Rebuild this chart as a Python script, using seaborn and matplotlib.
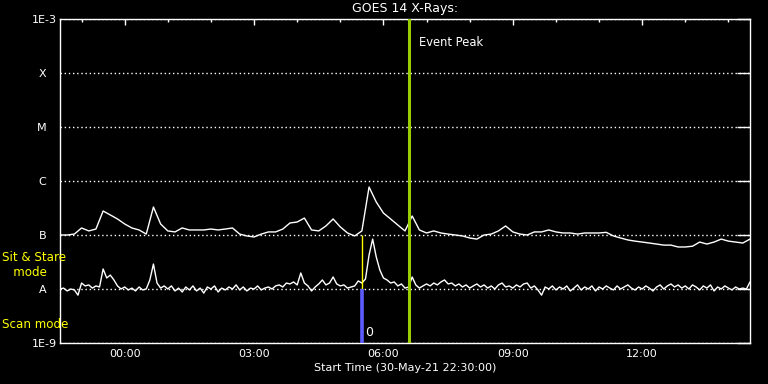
import numpy as np
import pandas as pd
import matplotlib
matplotlib.use("Agg")
import matplotlib.pyplot as plt
import matplotlib.dates as mdates
from matplotlib.ticker import NullLocator
import seaborn as sns

# GOES 14 X-ray flux
start_time = "2021-05-30 22:30"
end_time = "2021-05-31 14:30"
event_peak = "2021-05-31 06:36"
scan_time = "2021-05-31 05:30"

# long channel, one value per 10 min, in units of 1e-7 W/m^2
long_flux = [1.00, 1.00, 1.04, 1.35, 1.19, 1.29, 2.78, 2.35, 1.98, 1.60,
             1.35, 1.24, 1.04, 3.30, 1.60, 1.19, 1.14, 1.35, 1.24, 1.24,
             1.24, 1.29, 1.24, 1.29, 1.35, 1.04, 0.96, 0.92, 1.04, 1.14,
             1.14, 1.29, 1.67, 1.74, 2.06, 1.24, 1.19, 1.47, 1.98, 1.41,
             1.09, 0.96, 1.19, 7.74, 4.08, 2.55, 1.98, 1.53, 1.19, 2.25,
             1.24, 1.09, 1.19, 1.09, 1.04, 1.00, 0.96, 0.88, 0.84, 1.00,
             1.04, 1.19, 1.47, 1.14, 1.04, 1.00, 1.14, 1.14, 1.24, 1.14,
             1.09, 1.09, 1.04, 1.09, 1.09, 1.09, 1.12, 0.96, 0.88, 0.81,
             0.77, 0.74, 0.71, 0.68, 0.65, 0.65, 0.60, 0.60, 0.62, 0.74,
             0.68, 0.74, 0.84, 0.77, 0.74, 0.71, 0.84]

# short channel, one value per 5 min, in units of 1e-8 W/m^2
short_flux = [1.00, 1.04, 0.92, 1.00, 0.96, 0.77, 1.29, 1.14, 1.19, 1.04,
              1.14, 1.09, 2.35, 1.60, 1.81, 1.47, 1.14, 1.00, 1.09, 0.96,
              1.04, 0.92, 1.09, 0.96, 1.00, 1.47, 2.90, 1.29, 1.04, 1.14,
              1.00, 1.14, 0.92, 1.04, 0.88, 1.09, 0.96, 1.14, 0.92, 1.04,
              0.84, 1.09, 1.00, 1.14, 0.88, 1.04, 0.96, 1.09, 1.00, 1.19,
              0.96, 1.09, 0.92, 1.04, 1.00, 1.14, 0.96, 1.04, 1.09, 1.00,
              1.14, 1.19, 1.09, 1.29, 1.24, 1.35, 1.19, 1.98, 1.29, 1.14,
              0.92, 1.09, 1.24, 1.47, 1.19, 1.29, 1.67, 1.24, 1.14, 1.19,
              1.04, 1.09, 1.14, 1.41, 1.29, 1.53, 4.26, 8.40, 3.91, 2.25,
              1.60, 1.47, 1.29, 1.35, 1.14, 1.24, 1.04, 1.09, 1.67, 1.19,
              1.04, 1.14, 1.24, 1.14, 1.29, 1.19, 1.35, 1.47, 1.24, 1.29,
              1.14, 1.24, 1.09, 1.19, 1.04, 1.14, 1.24, 1.09, 1.19, 1.04,
              1.14, 1.00, 1.19, 1.29, 1.09, 1.14, 1.04, 1.19, 1.09, 1.24,
              1.29, 1.04, 1.14, 0.96, 0.77, 1.09, 1.00, 1.14, 0.96, 1.09,
              1.00, 1.14, 0.92, 1.04, 1.19, 0.96, 1.09, 1.00, 1.14, 0.92,
              1.09, 1.00, 1.14, 1.04, 0.96, 1.14, 1.00, 1.09, 1.19, 1.04,
              0.96, 1.09, 1.00, 1.14, 1.04, 0.92, 1.09, 1.19, 1.00, 1.14,
              1.24, 1.09, 1.19, 1.04, 1.14, 1.00, 1.19, 1.09, 0.96, 1.14,
              1.04, 1.19, 0.92, 1.09, 1.00, 1.14, 1.04, 0.96, 1.09, 1.00,
              1.04, 1.00, 1.35]

level_ticks = [1e-9, 1e-8, 1e-7, 1e-6, 1e-5, 1e-4, 1e-3]
level_labels = ["1E-9", "A   ", "B   ", "C   ", "M   ", "X   ", "1E-3"]

long_df = pd.DataFrame({
    "time": pd.date_range(start_time, periods=len(long_flux), freq="10min"),
    "flux": np.array(long_flux) * 1e-7,
})
short_df = pd.DataFrame({
    "time": pd.date_range(start_time, periods=len(short_flux), freq="5min"),
    "flux": np.array(short_flux) * 1e-8,
})

sns.set_style("dark", {"axes.facecolor": "black", "figure.facecolor": "black"})
plt.rcParams["font.family"] = ["DejaVu Sans"]

fig = plt.figure(figsize=(7.68, 3.84), dpi=100)
ax = fig.add_axes([60 / 768, 1 - 343 / 384, 690 / 768, 324 / 384])
ax.set_facecolor("black")

sns.lineplot(data=long_df, x="time", y="flux", ax=ax, color="white", lw=1)
sns.lineplot(data=short_df, x="time", y="flux", ax=ax, color="white", lw=1)

ax.set_yscale("log")
ax.set_ylim(1e-9, 1e-3)
ax.set_xlim(pd.Timestamp(start_time), pd.Timestamp(end_time))

# event markers
peak = pd.Timestamp(event_peak)
scan = pd.Timestamp(scan_time)
ax.axvline(peak, color="#9acd00", lw=2.2, zorder=3)
ax.vlines(scan, 1e-8, 1e-7, color="#ffff00", lw=1, zorder=3)
ax.vlines(scan, 1e-9, 1e-8, color="#5c5cff", lw=2.6, zorder=3)
ax.annotate("Event Peak", xy=(peak, 1e-3), xytext=(7, -17), textcoords="offset points",
            color="white", fontsize=8.3, ha="left", va="center")
ax.annotate("0", xy=(scan, 1e-9), xytext=(2, 3), textcoords="offset points",
            color="white", fontsize=9, ha="left", va="bottom")

# axes styling
ax.set_yticks(level_ticks, level_labels)
ax.yaxis.set_minor_locator(NullLocator())
ax.xaxis.set_major_locator(mdates.HourLocator(byhour=[0, 3, 6, 9, 12]))
ax.xaxis.set_minor_locator(mdates.HourLocator())
ax.xaxis.set_major_formatter(mdates.DateFormatter("%H:%M"))
ax.tick_params(axis="y", which="major", direction="in", length=9.5, width=1,
               colors="white", right=True, labelsize=8, pad=2)
ax.tick_params(axis="x", which="major", direction="in", length=4.5, width=1,
               colors="white", top=True, labelsize=8, pad=4)
ax.tick_params(axis="x", which="minor", direction="in", length=2.2, width=1,
               colors="white", top=True)
ax.grid(axis="y", which="major", color="white", linestyle=(0, (1, 2)), lw=1)
ax.grid(axis="x", visible=False)
for s in ax.spines.values():
    s.set_color("white")
    s.set_linewidth(1)
    s.set_visible(True)

ax.set_title("GOES 14 X-Rays:", color="white", fontsize=9, pad=5)
ax.set_xlabel("Start Time (30-May-21 22:30:00)", color="white", fontsize=8, labelpad=3)
ax.set_ylabel("")

fig.text(2 / 768, 1 - 265 / 384, "Sit & Stare\n   mode", color="#ffff00", fontsize=8.6,
         ha="left", va="center", linespacing=1.25, zorder=10)
fig.text(2 / 768, 1 - 324 / 384, "Scan mode", color="#ffff00", fontsize=8.6,
         ha="left", va="center")

fig.savefig("out.png", dpi=100, facecolor="black")
